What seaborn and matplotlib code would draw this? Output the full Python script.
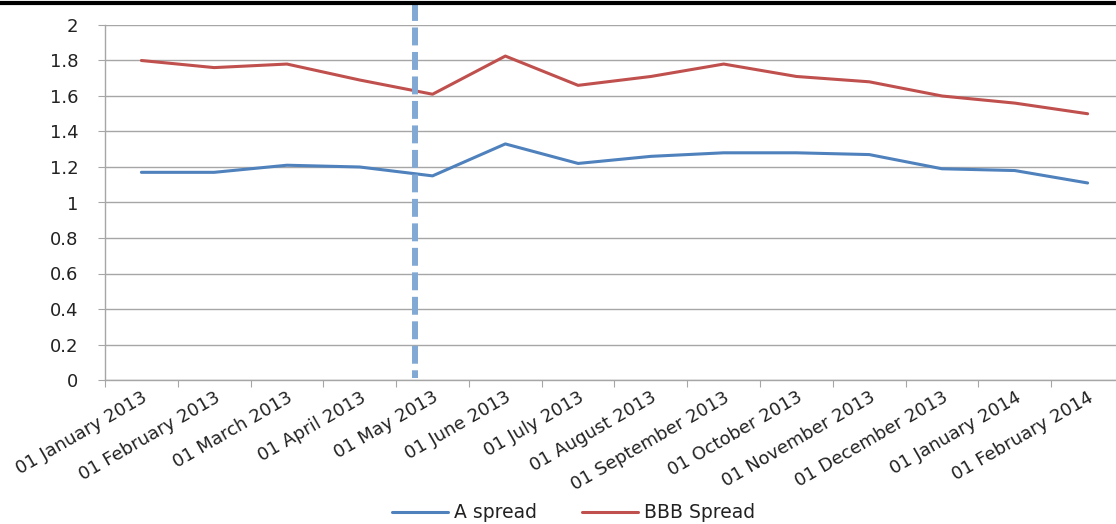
import numpy as np
import pandas as pd
import seaborn as sns
import matplotlib.pyplot as plt

##
# data

months = ['01 January 2013', '01 February 2013', '01 March 2013',
          '01 April 2013', '01 May 2013', '01 June 2013', '01 July 2013',
          '01 August 2013', '01 September 2013', '01 October 2013',
          '01 November 2013', '01 December 2013', '01 January 2014',
          '01 February 2014']
a_spread = [1.17, 1.17, 1.21, 1.20, 1.15, 1.33, 1.22, 1.26, 1.28, 1.28,
            1.27, 1.19, 1.18, 1.11]
bbb_spread = [1.80, 1.76, 1.78, 1.69, 1.61, 1.825, 1.66, 1.71, 1.78, 1.71,
              1.68, 1.60, 1.56, 1.50]
event_pos = 3.76  # dashed marker, between April and May 2013

##
# long-form frame for seaborn

pos = np.arange(len(months))
df = pd.concat([
    pd.DataFrame({'month': pos, 'spread': a_spread, 'series': 'A spread'}),
    pd.DataFrame({'month': pos, 'spread': bbb_spread, 'series': 'BBB Spread'}),
])

sns.set_style('white')
plt.rcParams['font.family'] = ['DejaVu Sans']

fig = plt.figure(figsize=(11.16, 5.24), dpi=100)
ax = fig.add_axes([105 / 1116, 1 - 380 / 524, 1019 / 1116, 355 / 524])

sns.lineplot(data=df, x='month', y='spread', hue='series',
             palette={'A spread': '#4F81BD', 'BBB Spread': '#C0504D'},
             linewidth=2.2, ax=ax, legend=False)

# dashed vertical marker, drawn from the top border down to the axis
ax.plot([event_pos, event_pos], [2.124, 0.01], color='#82A8D4',
        linewidth=4.3, linestyle=(0, (3, 1.1)), clip_on=False,
        solid_capstyle='butt', dash_capstyle='butt')

ax.set_xlim(-0.5, len(months) - 0.5)
ax.set_ylim(0, 2)
ax.set_yticks(np.arange(0, 2.01, 0.2))
ax.set_yticklabels(['0', '0.2', '0.4', '0.6', '0.8', '1', '1.2', '1.4',
                    '1.6', '1.8', '2'], fontsize=13)
ax.yaxis.grid(True, color='#A6A6A6', linewidth=1)
ax.set_axisbelow(True)

# category boundaries as tick marks, labels at category centres
ax.set_xticks(np.arange(-0.5, len(months), 1.0))
ax.set_xticklabels([])
ax.set_xticks(pos, minor=True)
ax.set_xticklabels(months, minor=True, rotation=30, ha='right',
                   va='top', rotation_mode='anchor', fontsize=13)
ax.tick_params(axis='x', which='major', length=5, color='#A6A6A6',
               direction='out', bottom=True)
ax.tick_params(axis='x', which='minor', length=0, pad=6, labelcolor='#222222')
ax.tick_params(axis='y', length=5, color='#A6A6A6', direction='out',
               left=True, pad=14, labelcolor='#222222')
ax.set_xlabel('')
ax.set_ylabel('')

for side in ['top', 'right']:
    ax.spines[side].set_visible(False)
for side in ['left', 'bottom']:
    ax.spines[side].set_color('#A6A6A6')
    ax.spines[side].set_linewidth(1)

# legend at the bottom
handles = [plt.Line2D([], [], color='#4F81BD', linewidth=2.2),
           plt.Line2D([], [], color='#C0504D', linewidth=2.2)]
fig.legend(handles, ['A spread', 'BBB Spread'], loc='center',
           bbox_to_anchor=(0.514, 1 - 513 / 524), ncol=2, frameon=False,
           fontsize=13.5, handlelength=3.0, handletextpad=0.3,
           columnspacing=2.4, labelcolor='#222222')

# black border across the top
fig.add_artist(plt.Line2D([0, 1], [1 - 3 / 524, 1 - 3 / 524], color='black',
                          linewidth=3, transform=fig.transFigure))

fig.savefig('out.png', dpi=100)
